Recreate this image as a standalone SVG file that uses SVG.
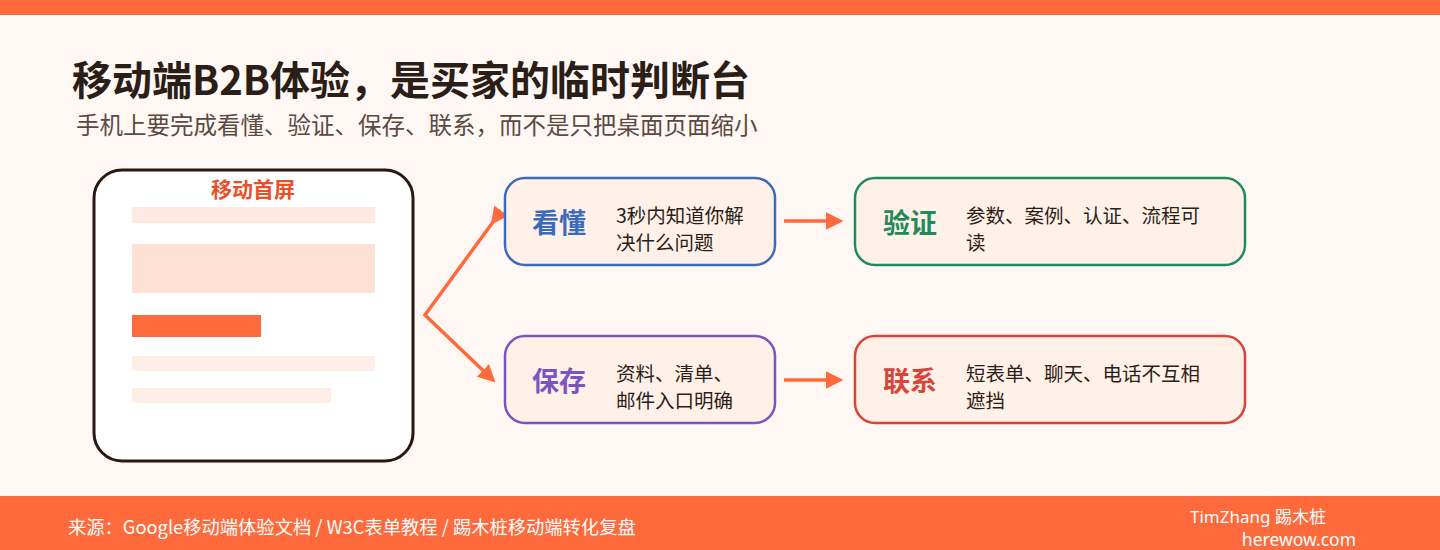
<svg xmlns="http://www.w3.org/2000/svg" width="1440" height="550" viewBox="0 0 1440 550">
<style>
text{font-family:"Noto Sans CJK SC","Noto Sans",sans-serif}
.box{fill:#fff0e8;stroke-width:2.5}
.h{font-size:27px;font-weight:bold}
.d{font-size:19.5px;fill:#2a1e17}
.conn{fill:none;stroke:#ff6a3d;stroke-width:3.5}
.ft{font-family:"Noto Sans","Noto Sans CJK SC",sans-serif}
</style>
<defs>
<marker id="ah" viewBox="0 0 10 10" refX="8" refY="5" markerWidth="5" markerHeight="5" orient="auto" markerUnits="strokeWidth"><path d="M0,0L10,5L0,10z" fill="#ff6a3d"/></marker>
</defs>
<rect width="1440" height="550" fill="#fff7f4"/>
<rect width="1440" height="15" fill="#ff6a3d"/>
<rect y="496" width="1440" height="54" fill="#ff6a3d"/>
<text x="72" y="95" font-size="40" font-weight="bold" fill="#2a1e17">移动端B2B体验，是买家的临时判断台</text>
<text x="76" y="134" font-size="23.5" fill="#5a4a42">手机上要完成看懂、验证、保存、联系，而不是只把桌面页面缩小</text>
<g id="phone">
<rect x="94" y="170" width="319" height="291" rx="28" fill="#fff" stroke="#2a1710" stroke-width="3"/>
<text x="253" y="197" font-size="21" font-weight="bold" fill="#e8502a" text-anchor="middle">移动首屏</text>
<rect x="132" y="207" width="243" height="16" fill="#ffe9e0"/>
<rect x="132" y="244" width="243" height="49" fill="#ffe0d4"/>
<rect x="132" y="315" width="129" height="22" fill="#ff6a3d"/>
<rect x="132" y="356" width="243" height="15" fill="#ffeee6"/>
<rect x="132" y="388" width="199" height="15" fill="#ffeee6"/>
</g>
<g id="connectors">
<polyline class="conn" points="493,222 425,315 493,380" marker-start="url(#ah)" marker-end="url(#ah)"/>
<line class="conn" x1="784" y1="221" x2="840" y2="221" marker-end="url(#ah)"/>
<line class="conn" x1="784" y1="380" x2="840" y2="380" marker-end="url(#ah)"/>
</g>
<g id="n1"><rect class="box" x="505" y="178" width="270" height="87" rx="20" stroke="#3a6bbd"/><text class="h" x="532" y="233" fill="#3a6bbd">看懂</text><text class="d" x="616" y="223">3秒内知道你解</text><text class="d" x="616" y="250">决什么问题</text></g>
<g id="n2"><rect class="box" x="855" y="178" width="390" height="87" rx="20" stroke="#1f8a5b"/><text class="h" x="883" y="233" fill="#1f8a5b">验证</text><text class="d" x="966" y="223">参数、案例、认证、流程可</text><text class="d" x="966" y="250">读</text></g>
<g id="n3"><rect class="box" x="505" y="336" width="270" height="87" rx="20" stroke="#7a55c2"/><text class="h" x="532" y="391" fill="#7a55c2">保存</text><text class="d" x="616" y="381">资料、清单、</text><text class="d" x="616" y="408">邮件入口明确</text></g>
<g id="n4"><rect class="box" x="855" y="336" width="390" height="87" rx="20" stroke="#d8443a"/><text class="h" x="883" y="391" fill="#d8443a">联系</text><text class="d" x="966" y="381">短表单、聊天、电话不互相</text><text class="d" x="966" y="408">遮挡</text></g>
<text x="68" y="534" font-size="18.3" fill="#fff">来源：Google移动端体验文档 / W3C表单教程 / 踢木桩移动端转化复盘</text>
<text class="ft" x="1190" y="523" font-size="17" fill="#fff">TimZhang 踢木桩</text>
<text class="ft" x="1356" y="546" font-size="17.5" fill="#fff" text-anchor="end">herewow.com</text>
</svg>
